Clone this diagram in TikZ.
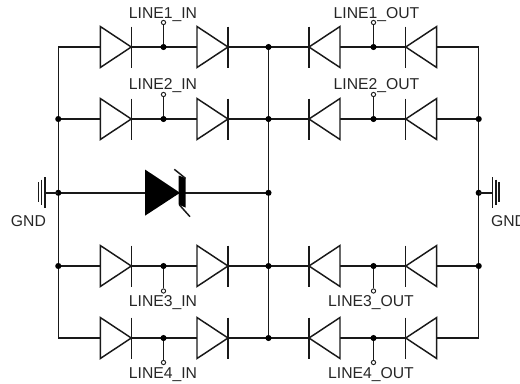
\documentclass[tikz,border=0pt]{standalone}
\usepackage{fontspec}
\setmainfont{Liberation Sans}
\tikzset{
	wire/.style={line width=1.1pt,draw=black!90},
	junction/.style={circle,fill=black,inner sep=0pt,minimum size=4.6pt},
	pinhole/.style={circle,draw=black!90,fill=white,line width=0.7pt,inner sep=0pt,minimum size=3.2pt},
	pinlabel/.style={font=\fontsize{11.8pt}{14pt}\selectfont,text=black!85,anchor=base,inner sep=0pt},
	diode/.pic={
		\draw[wire,fill=white] (0,-20.5) -- (31,0) -- (0,20.5) -- cycle;
		\draw[wire] (31,-20.5) -- (31,20.5);
	},
}

\begin{document}
\begin{tikzpicture}[x=0.75pt,y=-0.75pt]
	\useasboundingbox (0,0) rectangle (520,383);
	% rails
	\coordinate (Ltop) at (58.3,47);
	\coordinate (Lbot) at (58.3,338);
	\coordinate (Ctop) at (268.5,47);
	\coordinate (Cbot) at (268.5,338);
	\coordinate (Rtop) at (478.7,47);
	\coordinate (Rbot) at (478.7,338);
	\coordinate (Lgnd) at (58.3,192.8);
	\coordinate (Cgnd) at (268.5,192.8);
	\coordinate (Rgnd) at (478.7,192.8);
	\draw[wire] (Ltop) -- (Lbot);
	\draw[wire] (Ctop) -- (Cbot);
	\draw[wire] (Rtop) -- (Rbot);
	\draw[wire] (Lgnd) -- (Cgnd);
	% diode rows
	\foreach \row/\ypos/\ypin/\ytext/\xtext in {1/47/22.5/18.5/376.5,2/119/94.5/89.5/376.5,3/266/291/306.5/371,4/338/362.5/378/371}{
		\coordinate (L\row) at (58.3,\ypos);
		\coordinate (R\row) at (478.7,\ypos);
		\coordinate (Ijoin\row) at (163.5,\ypos);
		\coordinate (Ojoin\row) at (373.5,\ypos);
		\draw[wire] (L\row) -- (R\row);
		\pic at (100.3,\ypos) {diode};
		\pic at (197,\ypos) {diode};
		\pic[xscale=-1] at (340,\ypos) {diode};
		\pic[xscale=-1] at (436.7,\ypos) {diode};
		\node[pinhole] (Ipin\row) at (163.5,\ypin) {};
		\node[pinhole] (Opin\row) at (373.5,\ypin) {};
		\draw[wire] (Ijoin\row) -- (Ipin\row);
		\draw[wire] (Ojoin\row) -- (Opin\row);
		\node[junction] (Idot\row) at (Ijoin\row) {};
		\node[junction] (Odot\row) at (Ojoin\row) {};
		\node[junction] (Cdot\row) at (268.5,\ypos) {};
		\node[pinlabel] (Itext\row) at (163,\ytext) {LINE\row\_IN};
		\node[pinlabel] (Otext\row) at (\xtext,\ytext) {LINE\row\_OUT};
	}
	\node[junction] (Ldot2) at (L2) {};
	\node[junction] (Ldot3) at (L3) {};
	\node[junction] (Rdot2) at (R2) {};
	\node[junction] (Rdot3) at (R3) {};
	\node[junction] (Ldotg) at (Lgnd) {};
	\node[junction] (Cdotg) at (Cgnd) {};
	\node[junction] (Rdotg) at (Rgnd) {};
	% big diode
	\fill[black] (145,169.5) -- (180,192.8) -- (145,215.7) -- cycle;
	\fill[black] (178.5,175.5) -- (185.5,178) -- (185.5,207.5) -- (178.5,204.5) -- cycle;
	\draw[wire] (174.3,169.3) -- (185.5,178.3);
	\draw[wire] (179.5,205) -- (190,216.7);
	% ground symbols
	\coordinate (Lstub) at (45,192.8);
	\coordinate (Rstub) at (492.3,192.8);
	\draw[wire] (Lgnd) -- (Lstub);
	\draw[wire] (Rgnd) -- (Rstub);
	\draw[wire] (45,177) -- (45,207.5);
	\draw[wire] (41.5,179.5) -- (41.5,205);
	\draw[wire] (38.3,182) -- (38.3,202);
	\draw[wire] (492.3,177) -- (492.3,207.5);
	\draw[wire] (495.8,179.5) -- (495.8,205);
	\draw[wire] (499,182) -- (499,202);
	\node[pinlabel] (Lgndtext) at (28.4,226) {GND};
	\node[pinlabel] (Rgndtext) at (508.6,226) {GND};
\end{tikzpicture}
\end{document}
